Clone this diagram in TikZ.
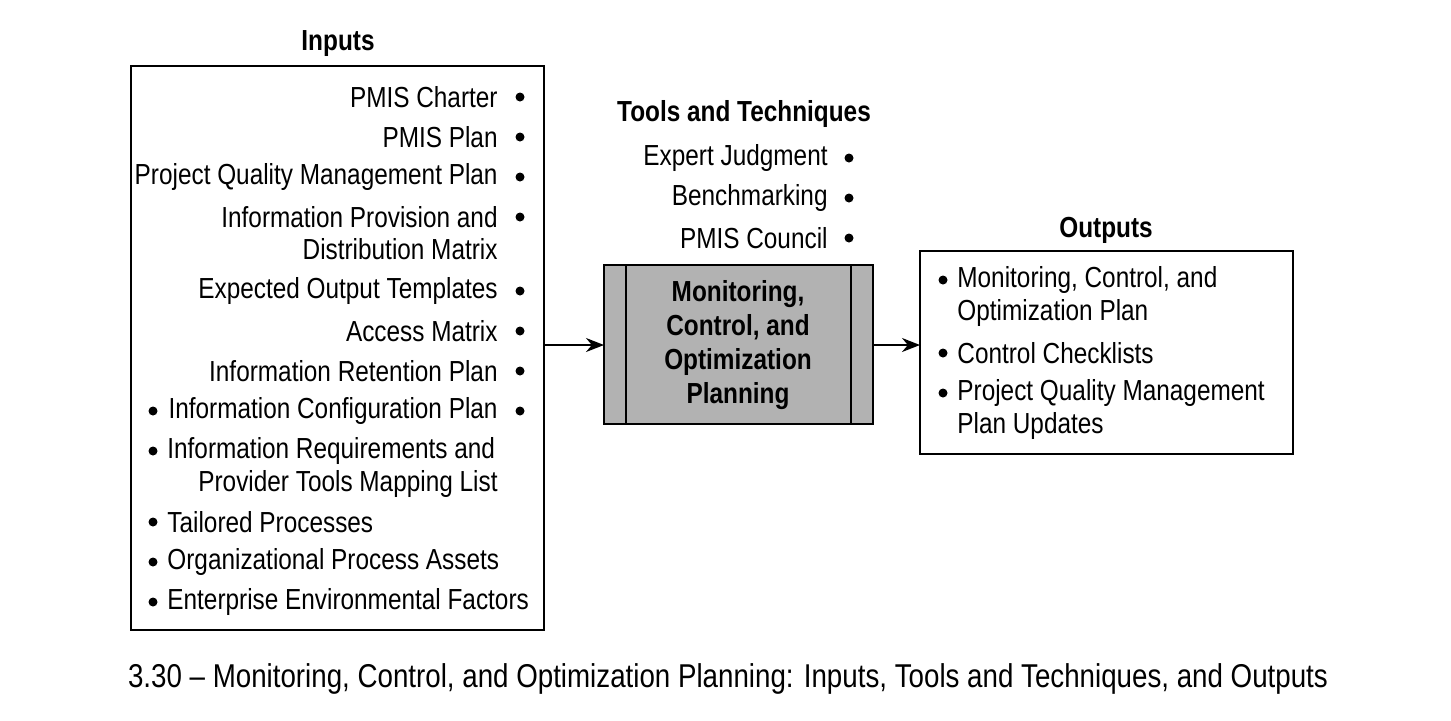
\documentclass[tikz,border=0pt]{standalone}
\usepackage{fontspec}
\setmainfont[FakeStretch=0.84]{Liberation Sans}
\usetikzlibrary{arrows.meta}
\begin{document}
\begin{tikzpicture}[x=0.5pt,y=-0.5pt,
  txt/.style={font=\fontsize{14.5}{16}\selectfont,inner sep=0pt},
  rt/.style={txt,anchor=east},
  lt/.style={txt,anchor=west},
  ttl/.style={font=\bfseries\fontsize{14.5}{16}\selectfont,inner sep=0pt},
  dot/.style={circle,fill=black,inner sep=0pt,minimum size=4.5pt},
  box/.style={draw=black,line width=1pt},
  arr/.style={-{Stealth[length=9pt,width=7pt]},line width=1pt}]
\useasboundingbox (0,0) rectangle (1451,720);
\node[ttl] (ti) at (338,44) {Inputs};
\draw[box] (131,66) rectangle (544,630);
\coordinate (inR) at (544,345);
\foreach \y/\t [count=\i] in {97/PMIS Charter,137/PMIS Plan,177/Project Quality Management Plan,217/Information Provision and,291/Expected Output Templates,331/Access Matrix,371/Information Retention Plan,411/Information Configuration Plan}
  {\node[rt] (ir\i) at (498,\y) {\t}; \node[dot] (ird\i) at (520,\y) {};}
\node[rt] (ir9) at (498,249) {Distribution Matrix};
\node[dot] (ild0) at (153,411) {};
\foreach \y/\t [count=\i] in {451/Information Requirements and,522/Tailored Processes,562/Organizational Process Assets,602/Enterprise Environmental Factors}
  {\node[dot] (ild\i) at (153,\y) {}; \node[lt] (il\i) at (167,\y) {\t};}
\node[rt] (il5) at (498,484) {Provider Tools Mapping List};
\node[ttl] (tt) at (744,114) {Tools and Techniques};
\foreach \y/\t [count=\i] in {158/Expert Judgment,198/Benchmarking,238/PMIS Council}
  {\node[rt] (t\i) at (828,\y) {\t}; \node[dot] (td\i) at (849,\y) {};}
\draw[box,fill=black!30] (604,265) rectangle (873,424);
\draw[line width=1pt] (626,265) -- (626,424) (851,265) -- (851,424);
\node[ttl,align=center,font=\bfseries\fontsize{14.5}{17}\selectfont] (proc) at (738,345) {Monitoring,\\Control, and\\Optimization\\Planning};
\coordinate (pL) at (604,345);
\coordinate (pR) at (873,345);
\node[ttl] (to) at (1106,230) {Outputs};
\draw[box] (920,251) rectangle (1293,454);
\coordinate (oL) at (920,345);
\foreach \y/\t [count=\i] in {280/Monitoring{,} Control{,} and,353/Control Checklists,393/Project Quality Management}
  {\node[dot] (od\i) at (943,\y) {}; \node[lt] (o\i) at (957,\y) {\t};}
\node[lt] (o4) at (957,313) {Optimization Plan};
\node[lt] (o5) at (957,426) {Plan Updates};
\draw[arr] (inR) -- (pL);
\draw[arr] (pR) -- (oL);
\node[txt,font=\fontsize{16.5}{18}\selectfont] (cap) at (728,679) {3.30 – Monitoring, Control, and Optimization Planning: Inputs, Tools and Techniques, and Outputs};
\end{tikzpicture}
\end{document}
